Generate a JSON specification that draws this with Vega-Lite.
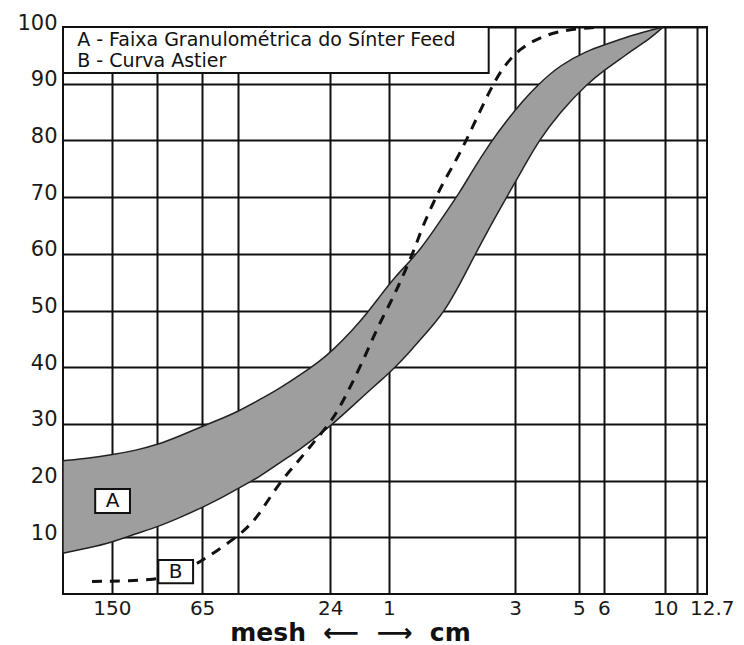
{
  "$schema": "https://vega.github.io/schema/vega-lite/v6.json",
  "autosize": "none",
  "width": 644,
  "height": 567,
  "padding": {"left": 63, "top": 27, "right": 37, "bottom": 51},
  "background": "white",
  "config": {
    "view": {"stroke": "#111111", "strokeWidth": 2},
    "font": "DejaVu Sans"
  },
  "datasets": {
    "band": [
      {"u": 0, "v": 7.2, "v2": 23.5}, {"u": 4.2, "v": 8.2, "v2": 24.0}, {"u": 7.3, "v": 9.0, "v2": 24.5},
      {"u": 11.2, "v": 10.6, "v2": 25.3}, {"u": 14.6, "v": 11.8, "v2": 26.3}, {"u": 18.2, "v": 13.5, "v2": 27.9},
      {"u": 21.7, "v": 15.3, "v2": 29.6}, {"u": 25.2, "v": 17.3, "v2": 31.2}, {"u": 27.0, "v": 18.5, "v2": 32.1},
      {"u": 30.6, "v": 20.7, "v2": 34.3}, {"u": 33.7, "v": 23.2, "v2": 36.3}, {"u": 36.8, "v": 25.5, "v2": 38.6},
      {"u": 39.9, "v": 28.2, "v2": 41.1}, {"u": 41.9, "v": 30.0, "v2": 43.0}, {"u": 45.0, "v": 33.2, "v2": 46.6},
      {"u": 47.2, "v": 35.5, "v2": 49.5}, {"u": 49.2, "v": 37.5, "v2": 52.5}, {"u": 51.6, "v": 40.0, "v2": 56.0},
      {"u": 53.9, "v": 42.8, "v2": 58.7}, {"u": 55.6, "v": 45.0, "v2": 61.0}, {"u": 57.5, "v": 47.5, "v2": 64.0},
      {"u": 59.3, "v": 50.0, "v2": 67.0}, {"u": 61.7, "v": 54.8, "v2": 71.0}, {"u": 63.5, "v": 58.8, "v2": 74.5},
      {"u": 66.3, "v": 64.8, "v2": 79.5}, {"u": 68.9, "v": 70.0, "v2": 83.5}, {"u": 71.4, "v": 75.0, "v2": 87.0},
      {"u": 73.9, "v": 80.0, "v2": 90.0}, {"u": 77.2, "v": 85.0, "v2": 93.3}, {"u": 81.4, "v": 90.0, "v2": 95.8},
      {"u": 84.2, "v": 92.5, "v2": 96.9}, {"u": 86.5, "v": 94.3, "v2": 97.8}, {"u": 88.5, "v": 96.0, "v2": 98.6},
      {"u": 91.2, "v": 98.0, "v2": 99.4}, {"u": 93.2, "v": 100, "v2": 100}
    ],
    "curve": [
      {"u": 4.5, "v": 2.2}, {"u": 14.6, "v": 2.4}, {"u": 17.4, "v": 3.5}, {"u": 20.2, "v": 5.0},
      {"u": 21.7, "v": 6.0}, {"u": 23.9, "v": 7.6}, {"u": 27.5, "v": 10.5}, {"u": 29.3, "v": 12.5},
      {"u": 30.6, "v": 14.3}, {"u": 33.7, "v": 19.8}, {"u": 36.3, "v": 23.1}, {"u": 38.8, "v": 26.6},
      {"u": 41.5, "v": 30.2}, {"u": 43.0, "v": 33.0}, {"u": 44.6, "v": 36.5}, {"u": 46.4, "v": 40.7},
      {"u": 48.0, "v": 44.8}, {"u": 49.2, "v": 47.8}, {"u": 50.8, "v": 51.3}, {"u": 52.0, "v": 54.1},
      {"u": 53.4, "v": 57.7}, {"u": 54.7, "v": 61.2}, {"u": 55.9, "v": 65.0}, {"u": 57.5, "v": 69.0},
      {"u": 59.0, "v": 72.5}, {"u": 61.6, "v": 77.6}, {"u": 63.7, "v": 82.6}, {"u": 66.3, "v": 88.9},
      {"u": 68.3, "v": 92.9}, {"u": 71.0, "v": 96.3}, {"u": 74.1, "v": 98.2}, {"u": 77.6, "v": 99.5},
      {"u": 83.4, "v": 100}
    ],
    "boxes": [
      {"u": 0, "u2": 66.1, "v": 91.9, "v2": 100},
      {"u": 5.0, "u2": 10.4, "v": 14.3, "v2": 18.5},
      {"u": 14.8, "u2": 20.2, "v": 1.9, "v2": 6.0}
    ],
    "legendText": [
      {"u": 2.2, "v": 97.7, "t": "A - Faixa Granulométrica do Sínter Feed"},
      {"u": 2.2, "v": 94.0, "t": "B - Curva Astier"}
    ],
    "tags": [
      {"u": 7.7, "v": 16.4, "t": "A"},
      {"u": 17.5, "v": 3.9, "t": "B"}
    ]
  },
  "encoding": {
    "x": {
      "field": "u", "type": "quantitative",
      "scale": {"domain": [0, 100], "nice": false, "zero": false},
      "axis": {
        "values": [7.6, 14.6, 21.6, 27.2, 41.5, 50.6, 70.2, 80.1, 84.0, 93.5, 98.4],
        "labelExpr": "datum.value == 7.6 ? '150' : datum.value == 21.6 ? '65' : datum.value == 41.5 ? '24' : datum.value == 50.6 ? '1' : datum.value == 70.2 ? '3' : datum.value == 80.1 ? '5' : datum.value == 84.0 ? '6' : datum.value == 93.5 ? '10' : datum.value == 98.4 ? '12.7' : ''",
        "labelOverlap": false,
        "labelFlush": false,
        "labelOffset": {"condition": {"test": "datum.value == 98.4", "value": 15}, "value": 0},
        "labelFontSize": 20,
        "labelColor": "#1a1a1a",
        "labelPadding": 4,
        "ticks": false,
        "domain": false,
        "grid": true,
        "gridColor": "#111111",
        "gridWidth": 2,
        "gridOpacity": 1,
        "title": "mesh\u00a0\u00a0⟵\u00a0\u00a0⟶\u00a0\u00a0cm",
        "titleFontSize": 25,
        "titleFontWeight": "bold",
        "titleColor": "#111111",
        "titleX": 287,
        "titleY": 46,
        "titleAnchor": "middle",
        "titleAlign": "center",
        "titleBaseline": "alphabetic"
      }
    },
    "y": {
      "field": "v", "type": "quantitative",
      "scale": {"domain": [0, 100], "nice": false},
      "axis": {
        "values": [10, 20, 30, 40, 50, 60, 70, 80, 90, 100],
        "labelFontSize": 21,
        "labelColor": "#1a1a1a",
        "labelPadding": 6,
        "labelOffset": -4,
        "ticks": false,
        "domain": false,
        "grid": true,
        "gridColor": "#111111",
        "gridWidth": 2,
        "gridOpacity": 1,
        "title": null
      }
    }
  },
  "layer": [
    {
      "data": {"name": "band"},
      "mark": {"type": "area", "interpolate": "basis", "fill": "#9e9e9e", "fillOpacity": 1, "stroke": "#222222", "strokeWidth": 1.5},
      "encoding": {"y2": {"field": "v2"}}
    },
    {
      "data": {"name": "curve"},
      "mark": {"type": "line", "interpolate": "basis", "color": "#111111", "strokeWidth": 3, "strokeDash": [10, 8]},
      "encoding": {}
    },
    {
      "data": {"name": "boxes"},
      "mark": {"type": "rect", "fill": "white", "stroke": "#111111", "strokeWidth": 2},
      "encoding": {"x2": {"field": "u2"}, "y2": {"field": "v2"}}
    },
    {
      "data": {"name": "legendText"},
      "mark": {"type": "text", "align": "left", "baseline": "middle", "fontSize": 19, "color": "#111111"},
      "encoding": {"text": {"field": "t"}}
    },
    {
      "data": {"name": "tags"},
      "mark": {"type": "text", "align": "center", "baseline": "middle", "fontSize": 20, "color": "#111111"},
      "encoding": {"text": {"field": "t"}}
    }
  ]
}
